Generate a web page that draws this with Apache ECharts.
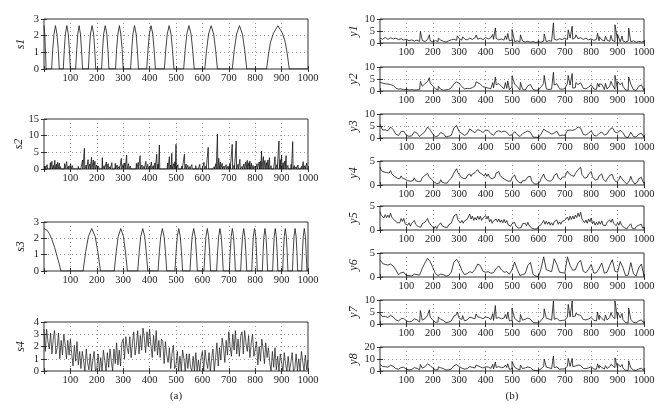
<!DOCTYPE html>
<html><head><meta charset="utf-8">
<script src="https://cdn.jsdelivr.net/npm/echarts@6/dist/echarts.min.js"></script>
<style>html,body{margin:0;padding:0;background:#fff}#c{width:662px;height:409px}</style>
</head><body><div id="c"></div>
<script>
// ---------- source signals ----------
const s1Pts = [[0,2.6],[3,2.1],[5,1.3],[8,0],
 [29,0],[33,1.18],[38,2.1],[43.5,2.6],[49,2.1],[54,1.18],[58,0],
 [73,0],[77,1.18],[81,2.1],[86.5,2.6],[92,2.1],[96,1.18],[100,0],
 [120,0],[124,1.18],[128,2.1],[133,2.6],[138,2.1],[142,1.18],[146,0],
 [168,0],[172,1.18],[176,2.1],[182,2.6],[188,2.1],[192,1.18],[196,0],
 [218,0],[222,1.18],[226,2.1],[232,2.6],[238,2.1],[242,1.18],[246,0],
 [271,0],[275,1.18],[280,2.1],[285.5,2.6],[291,2.1],[296,1.18],[300,0],
 [328,0],[332.5,1.18],[337,2.1],[343,2.6],[349,2.1],[353.5,1.18],[358,0],
 [389,0],[394,1.18],[399,2.1],[405.5,2.6],[412,2.1],[417,1.18],[422,0],
 [456,0],[461.4,1.18],[466.8,2.1],[474,2.6],[481.2,2.1],[486.6,1.18],[492,0],
 [529,0],[535,1.18],[541,2.1],[549,2.6],[557,2.1],[563,1.18],[569,0],
 [609,0],[616.2,1.18],[623.4,2.1],[633,2.6],[642.6,2.1],[649.8,1.18],[657,0],
 [713,0],[721,1.18],[729.5,2.1],[740.5,2.6],[751.5,2.1],[760,1.18],[768,0],
 [843,0],[851,0.95],[858,1.6],[869,2.15],[886,2.6],[903,2.15],[914,1.6],[921,0.95],[929,0],
 [1000,0]];

const s2SpikeX = [5,12,18,24,30,36,41,47,52,58,63,70,78,86,92,101,108,115,122,130,
 138,146,153,160,167,174,180,187,193,200,207,214,221,228,236,243,250,257,264,270,
 277,285,293,300,306,313,320,327,335,342,350,357,364,371,378,386,393,400,407,414,
 420,427,432,437,444,452,460,468,475,480,484,491,496,500,507,514,522,532,538,545,
 552,560,567,575,583,590,598,606,613,622,630,638,645,651,657,662,668,675,682,690,
 697,704,713,720,728,735,742,750,757,764,770,776,780,786,792,800,807,815,820,824,
 831,837,843,848,854,860,868,875,882,890,895,900,906,912,917,924,930,936,942,948,
 955,962,970,976,982,988,995];
const s2SpikeH = [0.8,1.3,0.6,1.9,2.3,1.1,2.6,1.4,2.0,1.8,0.7,0.4,1.6,2.2,0.9,1.5,1.0,0.6,0.3,0.8,
 0.5,2.7,6.2,1.2,2.8,1.5,3.5,2.7,2.3,1.2,0.8,0.5,3.4,1.0,2.1,1.6,0.7,1.9,0.5,1.7,
 1.2,0.8,3.2,1.4,1.8,4.2,1.6,0.9,0.4,0.6,1.7,2.0,4.0,1.2,0.8,2.3,1.4,0.9,2.1,1.0,
 1.8,4.4,1.5,7.2,0.6,0.3,0.5,1.8,3.7,1.2,4.7,1.6,2.2,7.4,1.3,0.5,0.9,4.4,1.5,1.1,
 0.7,1.3,0.6,1.0,0.5,1.4,0.4,2.0,0.8,6.5,0.6,0.3,0.7,1.6,10.5,3.2,2.1,1.7,0.9,1.3,
 0.8,1.6,7.4,1.1,8.4,1.4,2.9,0.8,1.5,2.1,2.6,1.9,2.4,1.7,1.1,0.9,1.6,2.1,2.3,5.4,
 3.7,2.6,1.9,2.7,3.4,1.0,0.6,3.7,1.3,8.4,2.8,4.2,1.9,2.4,4.0,1.1,0.6,1.4,8.2,1.0,
 0.7,1.2,0.5,0.8,2.2,1.0,1.8];

const s3Pts = [[0,2.6],[10,2.52],[20,2.3],[30,1.93],[40,1.45],[50,0.88],[58,0.42],[64,0],
 [148,0],[158,1.18],[168,2.1],[181,2.6],[194,2.1],[204,1.18],[214,0],
 [266,0],[273.5,1.18],[281,2.1],[291,2.6],[301,2.1],[308.5,1.18],[316,0],
 [355,0],[360.7,1.18],[366.4,2.1],[374,2.6],[381.6,2.1],[387.3,1.18],[393,0],
 [432,0],[437,1.18],[442,2.1],[448.5,2.6],[455,2.1],[460,1.18],[465,0],
 [496,0],[500.4,1.18],[504.7,2.1],[510.5,2.6],[516.3,2.1],[520.6,1.18],[525,0],
 [553,0],[557,1.18],[561,2.1],[567,2.6],[573,2.1],[577,1.18],[581,0],
 [606,0],[609.7,1.18],[613.5,2.1],[618.5,2.6],[623.5,2.1],[627.3,1.18],[631,0],
 [654,0],[657.7,1.18],[661.5,2.1],[666.5,2.6],[671.5,2.1],[675.3,1.18],[679,0],
 [702,0],[705.5,1.18],[709,2.1],[713.5,2.6],[718,2.1],[721.5,1.18],[725,0],
 [745,0],[748.5,1.18],[752,2.1],[756.5,2.6],[761,2.1],[764.5,1.18],[768,0],
 [787,0],[790,1.18],[793,2.1],[797.5,2.6],[802,2.1],[805,1.18],[808,0],
 [827,0],[830,1.18],[833,2.1],[837,2.6],[841,2.1],[844,1.18],[847,0],
 [866,0],[869,1.18],[872,2.1],[876,2.6],[880,2.1],[883,1.18],[886,0],
 [904,0],[907,1.18],[910,2.1],[914,2.6],[918,2.1],[921,1.18],[924,0],
 [941,0],[944,1.18],[947,2.1],[951,2.6],[955,2.1],[958,1.18],[961,0],
 [976,0],[979,1.18],[982,2.1],[986,2.6],[990,2.1],[993,1.18],[996,0],[1000,0]];

// s4 sampled every 5 samples
const s4Vals = [3.4,1.6,3.4,2.4,1.8,3.1,1.4,2.6,3.3,1.4, 1.9,3.1,1.0,2.5,1.3,3.0,2.2,1.0,2.5,1.3,
 2.6,1.4,0.4,2.1,0.8,2.4,0.5,1.6,0.2,1.6, 1.7,0,1.8,0.7,0.1,1.4,0,0.9,1.6,0,
 0.2,1.4,0,1.1,0,1.7,0.9,0,1.5,0.3, 1.8,0.8,0,1.8,0.6,2.3,0.5,1.7,0.4,2.3,
 2.6,1.0,2.8,1.9,1.4,2.8,1.1,2.3,3.2,1.3, 2.1,3.3,1.4,2.9,1.7,3.5,2.7,1.5,3.2,2.0,
 3.4,2.1,1.1,2.9,1.6,3.3,1.3,2.5,1.1,2.6, 2.4,0.6,2.4,1.3,0.7,1.9,0.2,1.4,2.1,0.2,
 0.5,1.6,0,1.2,0,1.7,1.0,0,1.4,0.2, 1.4,0.3,0,1.2,0,1.5,0,0.9,0,1.1,
 1.6,0,1.7,0.8,0.2,1.5,0,1.0,1.8,0, 1.1,2.3,0.4,1.9,0.9,2.7,1.9,0.7,2.5,1.3,
 3.2,2.0,1.2,3.0,1.7,3.3,1.4,2.6,1.2,2.8, 3.2,1.4,3.3,2.3,1.6,2.9,1.1,2.3,3.0,1.2,
 1.2,2.4,0.5,2.0,0.8,2.6,1.8,0.6,2.3,1.1, 1.9,0.7,0,1.6,0.3,1.9,0.1,1.2,0,1.4,
 1.5,0,1.5,0.6,0,1.2,0,0.7,1.5,0, 0.2,1.4,0,1.0,0,1.6,0.8,0,1.3,0.1, 0.9];

// ---------- mixtures ----------
// every 10 samples
const y1Vals = [2.0,1.6,2.3,1.5,2.2,1.7,2.0,1.4,1.8,1.2, 1.6,0.9,1.3,0.8,1.2,0.7,1.1,0.6,1.4,0.9,
 0.5,1.0,0.6,1.2,0.7,0.4,0.9,1.3,1.6,1.1, 1.8,1.2,1.7,1.3,2.0,1.5,2.2,1.6,2.0,1.4,
 2.3,1.7,2.2,1.5,1.9,1.3,1.7,1.2,1.5,0.9, 1.2,0.6,0.9,0.5,0.8,0.4,0.7,0.3,0.6,0.2,
 0.5,0.3,0.8,0.5,1.0,0.7,1.6,1.2,1.8,1.4, 2.0,1.5,2.1,1.6,2.3,1.8,2.2,1.5,2.0,1.3,
 1.7,1.1,1.5,0.9,1.3,0.8,1.2,0.7,1.1,0.6, 1.0,0.5,0.9,0.4,0.8,0.5,0.9,0.3,0.7,0.4, 0.6];
const y2Vals = [3.6,3.3,3.0,2.9,2.7,2.3,1.2,0.8,0.9,0.5, 0.7,0.4,0.6,0.4,0.5,0.6,2.0,3.0,3.9,3.3,
 2.1,0.9,0.4,0.7,0.3,0.5,0.6,1.3,2.9,3.8, 3.2,1.8,0.9,1.1,1.0,1.4,2.1,3.2,2.9,1.8,
 1.5,1.2,1.0,1.3,2.6,3.1,1.9,0.9,1.1,0.6, 1.6,2.9,1.8,0.5,0.7,0.4,2.2,2.7,0.6,0.3,
 0.4,1.7,3.1,0.9,0.6,0.8,2.5,3.0,0.9,0.7, 1.0,3.2,2.5,1.2,1.4,2.7,3.4,1.1,0.9,1.6,
 2.6,0.8,0.7,1.7,2.8,0.6,0.8,2.1,2.7,0.7, 0.5,2.6,2.0,0.4,0.3,2.8,0.6,0.2,1.9,2.6, 0.3];
const y3Vals = [5.7,3.3,3.4,3.0,4.6,3.5,1.6,1.0,2.7,2.8, 1.1,0.7,0.9,2.6,2.1,0.6,1.7,2.6,4.6,3.4,
 1.6,0.5,0.9,2.3,1.8,0.4,0.7,1.1,4.2,5.2, 2.6,1.9,1.1,1.7,3.8,2.9,2.2,3.5,3.1,2.3,
 3.3,3.1,1.8,1.1,2.6,3.0,2.5,2.9,2.4,1.1, 1.3,2.7,1.4,0.6,1.8,2.4,3.0,2.3,0.4,0.3,
 0.2,1.6,3.7,2.9,2.3,1.6,2.1,2.8,0.9,1.2, 1.1,3.2,3.3,3.2,3.6,4.6,4.1,1.5,1.2,2.0,
 3.0,1.1,0.8,1.9,2.5,1.2,1.7,3.5,4.3,2.5, 2.1,3.3,2.2,0.4,0.2,2.4,0.6,0.4,1.5,2.0, 0.3];
// every 5 samples
const y4Vals = [3.7,3.0,3.3,2.7,3.1,2.6,2.9,2.5,3.0,2.3, 2.6,1.8,1.9,1.4,1.7,1.3,1.9,1.4,1.8,1.2,
 1.4,0.9,1.3,0.8,1.2,0.9,1.5,0.9,1.2,0.7, 1.0,0.8,1.5,1.3,2.0,1.7,2.4,1.8,2.0,1.2,
 1.3,0.6,0.8,0.3,0.7,0.4,1.1,0.6,1.0,0.4, 0.8,0.4,0.9,0.7,1.4,1.5,2.5,2.7,3.4,2.6,
 2.5,1.8,2.0,1.4,1.7,1.3,1.9,1.6,2.3,1.8, 2.3,1.9,2.6,2.5,3.2,2.7,3.1,2.3,2.4,1.9,
 2.4,1.8,2.3,1.6,1.9,1.3,1.7,1.6,2.5,2.2, 2.8,2.0,2.1,1.4,1.6,1.1,1.5,0.8,1.1,0.8,
 1.5,1.4,2.1,1.3,1.4,0.6,0.7,0.4,0.9,0.5, 0.9,0.9,1.7,1.5,1.8,0.8,0.7,0.2,0.5,0.2,
 0.6,0.6,1.3,1.5,2.3,1.4,1.4,0.9,1.2,0.8, 1.1,1.2,2.0,1.8,2.4,1.5,1.4,1.1,1.6,1.2,
 1.7,1.9,2.9,2.4,2.8,2.0,2.3,1.8,2.4,2.4, 3.2,3.1,3.7,2.2,1.9,1.4,1.8,1.6,2.3,2.2,
 2.8,1.7,1.5,1.0,1.4,1.2,1.9,1.7,2.3,1.3, 1.1,0.7,1.2,1.2,2.0,1.7,2.2,1.3,1.1,0.6,
 1.0,1.1,1.9,1.4,1.5,0.7,0.6,0.2,0.6,0.9, 1.8,1.0,0.8,0.2,0.6,0.6,1.3,1.2,1.6,0.8, 0.4];
const y5Vals = [3.8,3.0,3.2,2.5,3.2,2.6,3.1,2.6,3.5,2.6, 3.0,2.1,2.1,1.5,1.9,1.5,2.4,1.8,2.4,1.3,
 1.6,1.0,1.5,0.8,1.4,1.0,2.0,1.2,1.6,0.7, 1.1,0.6,1.3,0.9,1.6,1.5,2.4,1.6,1.8,0.9,
 1.0,0.3,0.8,0.3,0.9,0.7,1.5,0.9,1.3,0.6, 0.9,0.5,1.1,0.7,1.4,1.6,2.9,2.5,3.3,2.1,
 2.2,1.5,2.0,1.4,1.9,1.5,2.2,2.1,3.3,2.3, 2.9,2.0,2.6,2.1,2.9,2.2,2.9,2.0,2.5,2.1,
 3.0,2.3,2.9,1.7,2.2,1.4,1.9,1.5,2.3,1.7, 2.3,1.6,2.1,1.5,2.2,1.5,2.0,1.1,1.3,0.8,
 1.3,0.9,1.6,0.8,1.2,0.4,0.8,0.5,1.3,0.9, 1.4,0.9,1.6,0.9,1.2,0.4,0.7,0.2,0.6,0.2,
 0.7,0.3,1.1,1.0,2.0,1.2,1.8,1.2,1.7,1.0, 1.5,1.0,1.7,1.3,2.1,1.2,1.7,1.2,1.8,1.4,
 2.0,1.7,2.7,2.0,2.9,2.2,2.9,2.3,3.1,2.6, 3.5,2.8,3.7,2.3,2.2,1.5,2.1,1.4,2.3,1.7,
 2.5,1.3,1.8,1.0,1.6,1.1,1.8,1.2,1.9,1.0, 1.4,0.9,1.6,1.2,2.1,1.6,2.3,1.4,1.7,0.9,
 1.5,1.0,1.8,1.0,1.4,0.5,0.7,0.2,0.7,0.5, 1.3,0.4,0.8,0.2,0.7,0.3,1.0,0.6,1.2,0.4, 0.6];
// every 10 samples
const y6Vals = [3.6,2.8,2.6,2.5,2.7,2.3,1.5,0.5,0.9,1.0, 0.3,0.3,0.2,0.6,0.5,0.4,1.8,2.9,3.9,3.2,
 2.0,0.7,0.3,0.6,0.5,0.2,0.3,1.0,3.1,3.7, 2.8,1.4,0.5,0.7,1.1,0.9,1.6,2.7,2.4,1.2,
 1.0,1.1,0.8,0.9,1.8,2.3,1.5,1.0,1.1,0.6, 1.5,3.1,1.6,0.3,0.5,0.7,2.4,3.0,0.5,0.2,
 0.1,1.7,4.2,1.5,1.3,1.1,3.8,2.6,1.0,0.9, 0.8,4.2,2.4,1.4,1.5,2.9,3.5,1.2,0.9,1.6,
 2.6,0.8,0.9,1.8,2.9,0.8,1.0,2.4,3.6,1.2, 1.0,3.2,2.0,0.3,0.4,3.0,0.7,0.2,1.9,2.7, 0.2];
const y7Vals = [4.3,3.0,3.2,2.7,3.6,3.0,1.7,1.3,2.2,2.3, 1.3,0.9,1.1,2.1,1.8,0.8,1.6,2.2,3.6,2.9,
 1.6,0.7,0.9,1.9,1.5,0.6,0.8,1.2,3.3,3.9, 2.4,1.9,1.3,1.7,2.9,2.5,2.2,3.0,2.7,2.2,
 2.9,2.7,1.9,1.5,2.4,2.7,2.2,2.5,2.2,1.3, 1.4,2.3,1.4,0.8,1.6,2.0,2.5,2.0,0.6,0.5,
 0.4,1.4,2.9,2.4,2.1,1.6,2.0,2.4,1.3,1.5, 1.6,2.9,3.0,3.0,3.3,3.9,3.6,1.9,1.7,2.1,
 2.7,1.5,1.3,1.8,2.3,1.4,1.7,2.7,3.2,2.2, 1.9,2.6,1.9,0.6,0.5,1.9,0.7,0.5,1.3,1.7, 0.5];
const y8Vals = [5.2,3.8,3.6,3.2,4.8,3.9,2.0,1.5,2.9,3.1, 1.4,1.0,1.2,2.8,2.2,1.0,2.3,3.5,6.0,4.6,
 2.4,1.0,1.1,2.7,2.0,0.8,1.0,1.6,4.4,5.4, 3.6,2.4,1.6,2.0,3.6,3.0,2.6,3.8,3.4,2.5,
 3.5,3.3,2.2,1.7,3.0,3.6,2.8,3.2,2.9,1.5, 1.8,3.1,1.8,0.9,2.0,2.6,3.3,2.8,0.7,0.5,
 0.4,1.8,4.0,3.2,2.7,1.9,2.8,3.4,1.5,1.7, 1.8,3.9,3.9,3.8,4.1,5.0,4.6,2.2,1.9,2.6,
 3.5,1.7,1.5,2.3,3.0,1.6,2.1,3.6,4.4,2.8, 2.4,3.5,2.5,0.6,0.5,2.6,0.8,0.5,1.7,2.3, 0.5];

// spikes visible in the mixtures
const spikeX = [153,187,221,293,313,364,427,437,475,484,500,532,622,657,713,728,742,824,831,854,875,890,900,917,942];
const y1Spk = [4.8,3.4,2.0,3.0,2.6,3.3,3.6,6.3,3.0,4.0,5.6,3.4,3.8,8.4,5.5,7.0,3.4,4.0,2.6,2.8,3.2,7.6,3.6,2.9,6.2];
const y2Spk = [4.0,5.5,2.0,4.3,2.5,3.8,3.5,5.8,3.5,4.2,6.3,3.6,6.5,7.8,6.5,7.3,3.5,3.2,3.0,3.2,4.0,6.5,4.0,3.5,5.8];
const y7Spk = [5.6,5.9,3.0,5.0,3.5,4.2,4.3,7.7,4.0,5.0,6.6,4.0,6.3,9.6,8.2,9.6,4.5,5.0,3.6,3.8,4.8,9.6,5.0,4.4,6.6];
const y8Spk = [5.5,6.8,3.5,5.0,4.0,5.0,5.5,7.5,5.0,6.0,8.0,5.0,10.0,12.5,10.5,10.5,5.5,6.0,4.5,4.5,5.5,11.0,6.0,5.5,8.5];

// axis scales
const xTickStep = 100;
const leftNames = ['s1','s2','s3','s4'];
const leftMax = [3,15,3,4];
const leftStep = [1,5,1,1];
const rightNames = ['y1','y2','y3','y4','y5','y6','y7','y8'];
const rightMax = [10,10,10,5,5,5,10,20];
const rightStep = [5,5,5,5,5,5,5,10];

// ---------- build datasets ----------
function stepped(vals, step){ return vals.map((v,i)=>[i*step, v]); }
function withSpikes(vals, step, h){
  return stepped(vals, step).concat(spikeX.map((x,k)=>[x,h[k]])).sort((a,b)=>a[0]-b[0]);
}
function spikeTrain(xs, hs){
  const out=[[0,0]];
  xs.forEach((x,k)=>{ out.push([x-1.5,0],[x,hs[k]],[x+1.5,0]); });
  out.push([1000,0]);
  return out;
}
const leftData = [s1Pts, spikeTrain(s2SpikeX, s2SpikeH), s3Pts, stepped(s4Vals,5)];
const rightData = [withSpikes(y1Vals,10,y1Spk), withSpikes(y2Vals,10,y2Spk), stepped(y3Vals,10),
  stepped(y4Vals,5), stepped(y5Vals,5), stepped(y6Vals,10), withSpikes(y7Vals,10,y7Spk), withSpikes(y8Vals,10,y8Spk)];

// ---------- layout ----------
const FONT = 'Liberation Serif';
const panels = [];
const leftTops = [19,119,222,322], leftH = [50,50,49,49];
leftNames.forEach((n,i)=>panels.push({name:n,max:leftMax[i],step:leftStep[i],left:44,top:leftTops[i],width:264,height:leftH[i],data:leftData[i],gap:17,lw:i===3?0.7:0.8}));
const rightTops = [19,67,114,161,206,253,300,347];
rightNames.forEach((n,i)=>panels.push({name:n,max:rightMax[i],step:rightStep[i],left:380,top:rightTops[i],width:264,height:24,data:rightData[i],gap:20,lw:0.8}));

const grid=[], xAxis=[], yAxis=[], series=[];
const dotted = {show:true, lineStyle:{color:'#9a9a9a', width:1, type:[1,3]}};
panels.forEach((p,i)=>{
  grid.push({left:p.left, top:p.top, width:p.width, height:p.height, show:true, borderColor:'#333', borderWidth:1, backgroundColor:'rgba(0,0,0,0)', containLabel:false});
  const xa = {type:'value', gridIndex:i, min:0, max:1000, interval:xTickStep};
  xAxis.push(Object.assign({}, xa, {position:'bottom',
    axisLine:{show:false}, axisTick:{show:true, inside:true, length:3, lineStyle:{color:'#333'}},
    axisLabel:{fontFamily:FONT, fontSize:10.5, color:'#222', margin:4, formatter:v=>v===0?'':String(v)},
    splitLine:dotted}));
  xAxis.push(Object.assign({}, xa, {position:'top',
    axisLine:{show:false}, axisTick:{show:true, inside:true, length:3, lineStyle:{color:'#333'}},
    axisLabel:{show:false}, splitLine:{show:false}}));
  const ya = {type:'value', gridIndex:i, min:0, max:p.max, interval:p.step};
  yAxis.push(Object.assign({}, ya, {position:'left', name:p.name, nameLocation:'middle', nameRotate:90, nameGap:p.gap,
    nameTextStyle:{fontFamily:FONT, fontStyle:'italic', fontSize:12, color:'#222'},
    axisLine:{show:false}, axisTick:{show:true, inside:true, length:3, lineStyle:{color:'#333'}},
    axisLabel:{fontFamily:FONT, fontSize:10.5, color:'#222', margin:5},
    splitLine:dotted}));
  yAxis.push(Object.assign({}, ya, {position:'right',
    axisLine:{show:false}, axisTick:{show:true, inside:true, length:3, lineStyle:{color:'#333'}},
    axisLabel:{show:false}, splitLine:{show:false}}));
  series.push({type:'line', xAxisIndex:2*i, yAxisIndex:2*i, data:p.data, showSymbol:false, symbol:'none',
    lineStyle:{color:'#151515', width:p.lw}, sampling:'none', animation:false, z:3, clip:true});
});

const chart = echarts.init(document.getElementById('c'), null, {renderer:'canvas'});
chart.setOption({
  animation:false, backgroundColor:'#fff',
  grid, xAxis, yAxis, series,
  graphic:[
    {type:'text', x:176, y:391, style:{text:'(a)', font:'11px "Liberation Serif"', fill:'#222', textAlign:'center'}},
    {type:'text', x:512, y:391, style:{text:'(b)', font:'11px "Liberation Serif"', fill:'#222', textAlign:'center'}}
  ]
});
</script></body></html>
